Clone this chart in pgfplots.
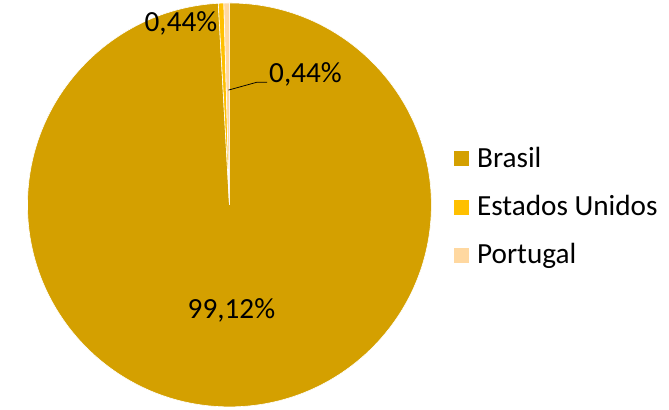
\documentclass[border=0pt]{standalone}
\usepackage{pgfplots}
\usepackage{pgfplotstable}
\pgfplotsset{compat=1.18}
\usepackage{fontspec}
\setmainfont{Carlito}
\definecolor{cBR}{RGB}{212,160,0}
\definecolor{cUS}{RGB}{255,192,0}
\definecolor{cPT}{RGB}{255,216,160}
\pgfplotstableread[col sep=comma]{
country,pct
Brasil,99.12
Estados Unidos,0.44
Portugal,0.44
}\piedata
\begin{document}
\pgfplotstablegetelem{0}{pct}\of\piedata \let\pA\pgfplotsretval
\pgfplotstablegetelem{1}{pct}\of\piedata \let\pB\pgfplotsretval
\pgfplotstablegetelem{2}{pct}\of\piedata \let\pC\pgfplotsretval
\pgfmathsetmacro\aA{90-3.6*\pA}
\pgfmathsetmacro\aB{\aA-3.6*\pB}
\pgfmathsetmacro\aC{\aB-3.6*\pC}
\begin{tikzpicture}
\begin{axis}[
  width=669bp, height=414bp, scale only axis,
  xmin=0, xmax=669, ymin=0, ymax=414,
  hide axis, clip=false,
]
\path (axis cs:0,0) rectangle (axis cs:669,414);
\fill[cBR, draw=white, line width=0.6bp] (axis cs:225,207) -- ++(90:204bp) arc[start angle=90, end angle=\aA, radius=204bp] -- cycle;
\fill[cUS, draw=white, line width=0.6bp] (axis cs:225,207) -- ++(\aA:204bp) arc[start angle=\aA, end angle=\aB, radius=204bp] -- cycle;
\fill[cPT, draw=white, line width=0.6bp] (axis cs:225,207) -- ++(\aB:204bp) arc[start angle=\aB, end angle=\aC, radius=204bp] -- cycle;
% labels
\node[anchor=base, font=\fontsize{29.5bp}{34bp}\selectfont] at (axis cs:227,92) {99,12\%};
\node[anchor=base, font=\fontsize{29.5bp}{34bp}\selectfont] at (axis cs:176,382) {0,44\%};
\node[anchor=base west, inner sep=0pt, font=\fontsize{29.5bp}{34bp}\selectfont] at (axis cs:265,331) {0,44\%};
\draw[black, line width=0.75bp] (axis cs:224,323) -- (axis cs:253,331) -- (axis cs:263,331);
% legend
\fill[cBR] (axis cs:452,246) rectangle (axis cs:467,261);
\node[anchor=base west, inner sep=0pt, font=\fontsize{29.5bp}{34bp}\selectfont] at (axis cs:475,245) {Brasil};
\fill[cUS] (axis cs:452,197) rectangle (axis cs:467,212);
\node[anchor=base west, inner sep=0pt, font=\fontsize{29.5bp}{34bp}\selectfont] at (axis cs:475,196) {Estados Unidos};
\fill[cPT] (axis cs:452,148) rectangle (axis cs:467,163);
\node[anchor=base west, inner sep=0pt, font=\fontsize{29.5bp}{34bp}\selectfont] at (axis cs:475,148) {Portugal};
\end{axis}
\end{tikzpicture}
\end{document}
